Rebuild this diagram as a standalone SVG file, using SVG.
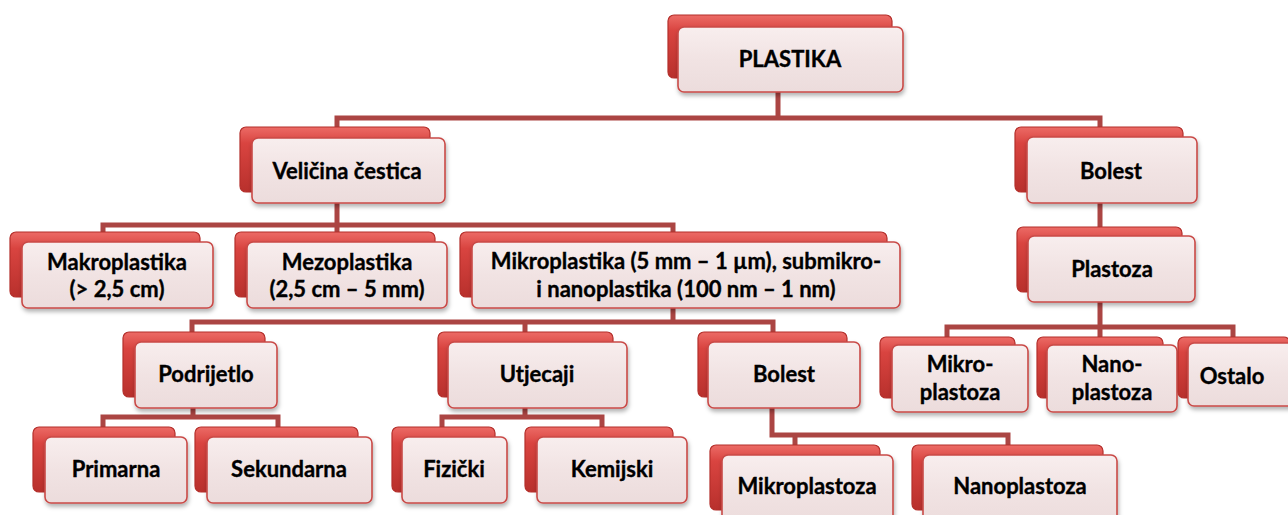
<svg xmlns="http://www.w3.org/2000/svg" width="1288" height="515" viewBox="0 0 1288 515">
<defs>
<linearGradient id="gBack" x1="0" y1="0" x2="0" y2="1">
<stop offset="0" stop-color="#ec6b66"/>
<stop offset="0.25" stop-color="#d94440"/>
<stop offset="1" stop-color="#b8302c"/>
</linearGradient>
<linearGradient id="gFront" x1="0" y1="0" x2="0" y2="1">
<stop offset="0" stop-color="#f8eeee"/>
<stop offset="0.5" stop-color="#f1e3e3"/>
<stop offset="1" stop-color="#ecdcdc"/>
</linearGradient>
<filter id="sh" x="-10%" y="-10%" width="125%" height="135%">
<feDropShadow dx="1" dy="3" stdDeviation="2" flood-color="#000" flood-opacity="0.3"/>
</filter>
</defs>
<style>
.b{fill:url(#gBack);stroke:#b42f2b;stroke-width:1.2}
.f{fill:url(#gFront);stroke:#c94a47;stroke-width:1.6;filter:url(#sh)}
.t{font-family:Lato,"Open Sans","Liberation Sans",sans-serif;font-weight:700;font-size:22px;fill:#000;stroke:#000;stroke-width:0.35;text-anchor:middle}
.c{fill:none;stroke:#ab4543;stroke-width:5;stroke-linejoin:miter}
</style>
<rect width="1288" height="515" fill="#fff"/>
<g id="connectors">
<path class="c" d="M778 92 V118 M337 127 V118 H1100 V127"/>
<path class="c" d="M337 203 V232 M103 233 V225 H673 V232"/>
<path class="c" d="M673 308 V322 M192 332 V322 H773 V332 M525 322 V332"/>
<path class="c" d="M193 408 V417 M103 427 V417 H278 V427"/>
<path class="c" d="M525 408 V417 M442 427 V417 H602 V427"/>
<path class="c" d="M772 408 V435 H1008 V445 M795 435 V445"/>
<path class="c" d="M1100 203 V227"/>
<path class="c" d="M1100 302 V327 M947 337 V327 H1233 V337 M1100 327 V337"/>
</g>
<g id="n-plastika"><rect class="b" x="668" y="15" width="224" height="63" rx="6"/><rect class="f" x="678" y="27" width="225" height="65" rx="6"/><text class="t" x="790" y="67">PLASTIKA</text></g>
<g id="n-velicina"><rect class="b" x="240" y="127" width="190" height="65" rx="6"/><rect class="f" x="252" y="138" width="193" height="65" rx="6"/><text class="t" x="347" y="179">Veličina čestica</text></g>
<g id="n-bolest-r"><rect class="b" x="1015" y="127" width="168" height="65" rx="6"/><rect class="f" x="1027" y="137" width="170" height="66" rx="6"/><text class="t" x="1111" y="179">Bolest</text></g>
<g id="n-makro"><rect class="b" x="10" y="232" width="190" height="65" rx="6"/><rect class="f" x="22" y="242" width="191" height="66" rx="6"/><text class="t" x="117" y="270">Makroplastika</text><text class="t" x="117" y="297">(&gt; 2,5 cm)</text></g>
<g id="n-mezo"><rect class="b" x="235" y="232" width="200" height="65" rx="6"/><rect class="f" x="247" y="242" width="200" height="66" rx="6"/><text class="t" x="347" y="270">Mezoplastika</text><text class="t" x="347" y="297">(2,5 cm – 5 mm)</text></g>
<g id="n-mikro"><rect class="b" x="460" y="232" width="427" height="65" rx="6"/><rect class="f" x="472" y="242" width="428" height="66" rx="6"/><text class="t" x="686" y="269">Mikroplastika (5 mm – 1 µm), submikro-</text><text class="t" x="686" y="297">i nanoplastika (100 nm – 1 nm)</text></g>
<g id="n-plastoza"><rect class="b" x="1017" y="227" width="165" height="65" rx="6"/><rect class="f" x="1028" y="236" width="167" height="66" rx="6"/><text class="t" x="1112" y="277">Plastoza</text></g>
<g id="n-podrijetlo"><rect class="b" x="123" y="332" width="142" height="65" rx="6"/><rect class="f" x="135" y="342" width="142" height="66" rx="6"/><text class="t" x="206" y="382">Podrijetlo</text></g>
<g id="n-utjecaji"><rect class="b" x="438" y="332" width="175" height="65" rx="6"/><rect class="f" x="448" y="342" width="179" height="66" rx="6"/><text class="t" x="537" y="382">Utjecaji</text></g>
<g id="n-bolest-m"><rect class="b" x="698" y="332" width="149" height="65" rx="6"/><rect class="f" x="708" y="342" width="152" height="66" rx="6"/><text class="t" x="784" y="382">Bolest</text></g>
<g id="n-mikroplastoza-r"><rect class="b" x="880" y="337" width="135" height="61" rx="6"/><rect class="f" x="892" y="345" width="136" height="67" rx="6"/><text class="t" x="960" y="372">Mikro-</text><text class="t" x="960" y="400">plastoza</text></g>
<g id="n-nanoplastoza-r"><rect class="b" x="1037" y="337" width="126" height="61" rx="6"/><rect class="f" x="1047" y="345" width="130" height="67" rx="6"/><text class="t" x="1112" y="372">Nano-</text><text class="t" x="1112" y="400">plastoza</text></g>
<g id="n-ostalo"><rect class="b" x="1178" y="337" width="112" height="61" rx="6"/><rect class="f" x="1188" y="343" width="110" height="63" rx="6"/><text class="t" x="1232" y="384">Ostalo</text></g>
<g id="n-primarna"><rect class="b" x="33" y="427" width="142" height="65" rx="6"/><rect class="f" x="45" y="437" width="142" height="66" rx="6"/><text class="t" x="116" y="477">Primarna</text></g>
<g id="n-sekundarna"><rect class="b" x="195" y="427" width="163" height="65" rx="6"/><rect class="f" x="207" y="437" width="165" height="66" rx="6"/><text class="t" x="289" y="477">Sekundarna</text></g>
<g id="n-fizicki"><rect class="b" x="392" y="427" width="103" height="65" rx="6"/><rect class="f" x="402" y="437" width="105" height="66" rx="6"/><text class="t" x="454" y="477">Fizički</text></g>
<g id="n-kemijski"><rect class="b" x="525" y="427" width="148" height="65" rx="6"/><rect class="f" x="537" y="437" width="150" height="66" rx="6"/><text class="t" x="612" y="477">Kemijski</text></g>
<g id="n-mikroplastoza"><rect class="b" x="710" y="445" width="170" height="65" rx="6"/><rect class="f" x="722" y="455" width="171" height="70" rx="6"/><text class="t" x="807" y="494">Mikroplastoza</text></g>
<g id="n-nanoplastoza"><rect class="b" x="912" y="445" width="191" height="65" rx="6"/><rect class="f" x="923" y="455" width="194" height="70" rx="6"/><text class="t" x="1020" y="494">Nanoplastoza</text></g>
</svg>
